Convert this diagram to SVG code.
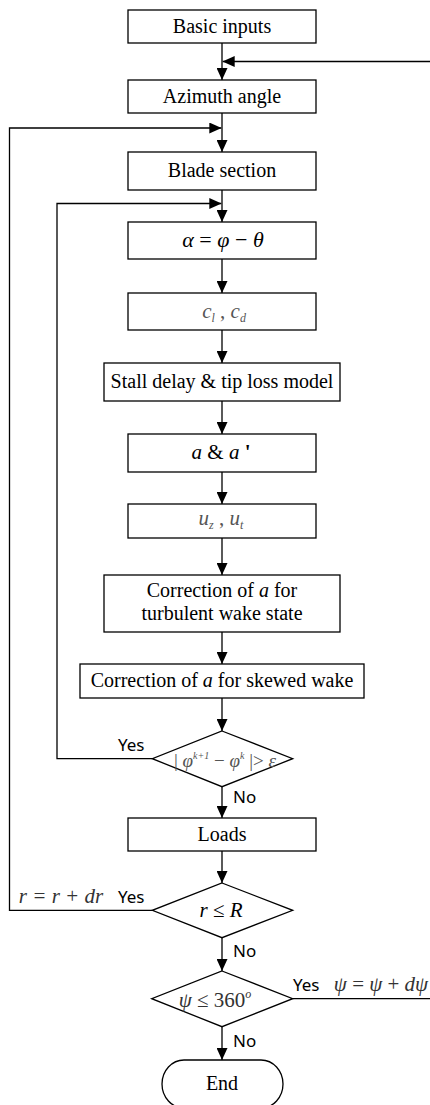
<svg xmlns="http://www.w3.org/2000/svg" width="430" height="1105" viewBox="0 0 430 1105">
<style>
.box{fill:#fff;stroke:#000;stroke-width:1.3}
.t{font-family:"Liberation Serif","Times New Roman",serif;font-size:20px;fill:#000;text-anchor:middle}
.m{font-family:"Liberation Serif","Times New Roman",serif;font-size:21px;fill:#000;text-anchor:middle}
.g{fill:#555}
.i{font-style:italic}
.s{font-size:12px}
.lab{font-family:"Noto Sans","Open Sans",sans-serif;font-size:17px;fill:#000}
.c{fill:none;stroke:#000;stroke-width:1.3}
</style>
<defs>
<marker id="ah" markerUnits="userSpaceOnUse" markerWidth="12" markerHeight="11" refX="12" refY="5.5" orient="auto">
<path d="M0,0 L12,5.5 L0,11 z" fill="#000"/>
</marker>
</defs>
<rect width="430" height="1105" fill="#fff"/>
<g id="connectors">
<path class="c" d="M222,43 V80" marker-end="url(#ah)"/>
<path class="c" d="M292.7,998.7 H430.8 V61.5 H222.7" marker-end="url(#ah)"/>
<path class="c" d="M222,113 V152" marker-end="url(#ah)"/>
<path class="c" d="M152.3,910.3 H9.5 V128 H221.3" marker-end="url(#ah)"/>
<path class="c" d="M222,190 V222" marker-end="url(#ah)"/>
<path class="c" d="M152.3,758.7 H57 V203.5 H221.3" marker-end="url(#ah)"/>
<path class="c" d="M222,259 V293" marker-end="url(#ah)"/>
<path class="c" d="M222,330 V363" marker-end="url(#ah)"/>
<path class="c" d="M222,401 V434" marker-end="url(#ah)"/>
<path class="c" d="M222,472 V504" marker-end="url(#ah)"/>
<path class="c" d="M222,538 V575" marker-end="url(#ah)"/>
<path class="c" d="M222,632 V664" marker-end="url(#ah)"/>
<path class="c" d="M222,698 V731" marker-end="url(#ah)"/>
<path class="c" d="M222,786.7 V818" marker-end="url(#ah)"/>
<path class="c" d="M222,851 V883" marker-end="url(#ah)"/>
<path class="c" d="M222,937.7 V971" marker-end="url(#ah)"/>
<path class="c" d="M222,1026.7 V1060" marker-end="url(#ah)"/>
<text class="lab" x="118" y="751">Yes</text>
<text class="lab" x="233" y="803">No</text>
<text class="lab" x="118" y="903">Yes</text>
<text class="m i" x="61" y="903" style="fill:#333">r = r + dr</text>
<text class="lab" x="293" y="991">Yes</text>
<text class="lab" x="233" y="957">No</text>
<text class="m" x="381" y="991" style="fill:#333"><tspan class="i">ψ</tspan> = <tspan class="i">ψ</tspan> + <tspan class="i">dψ</tspan></text>
<text class="lab" x="233" y="1047">No</text>
</g>
<g id="basic"><rect class="box" x="128" y="10" width="188" height="33"/><text class="t" x="222" y="33">Basic inputs</text></g>
<g id="azimuth"><rect class="box" x="128" y="80" width="188" height="33"/><text class="t" x="222" y="103">Azimuth angle</text></g>
<g id="blade"><rect class="box" x="128" y="152" width="188" height="38"/><text class="t" x="222" y="177">Blade section</text></g>
<g id="alpha"><rect class="box" x="128" y="222" width="188" height="37"/><text class="m" x="223" y="247" style="font-size:22px"><tspan class="i">α</tspan> = <tspan class="i">φ</tspan> − <tspan class="i">θ</tspan></text></g>
<g id="clcd"><rect class="box" x="128" y="293" width="188" height="37"/><text class="m g" x="224" y="318"><tspan class="i">c</tspan><tspan class="i s" dy="4">l</tspan><tspan dy="-4"> , </tspan><tspan class="i">c</tspan><tspan class="i s" dy="4">d</tspan></text></g>
<g id="stall"><rect class="box" x="104" y="363" width="236" height="38"/><text class="t" x="222" y="388">Stall delay &amp; tip loss model</text></g>
<g id="aa"><rect class="box" x="128" y="434" width="188" height="38"/><text class="m" x="221" y="459"><tspan class="i">a</tspan> &amp; <tspan class="i">a</tspan> <tspan style="font-weight:bold">'</tspan></text></g>
<g id="uzut"><rect class="box" x="128" y="504" width="188" height="34"/><text class="m g" x="221" y="525"><tspan class="i">u</tspan><tspan class="i s" dy="4">z</tspan><tspan dy="-4"> , </tspan><tspan class="i">u</tspan><tspan class="i s" dy="4">t</tspan></text></g>
<g id="turb"><rect class="box" x="104" y="575" width="236" height="57"/><text class="t" x="222" y="597">Correction of <tspan class="i">a</tspan> for</text><text class="t" x="222" y="620">turbulent wake state</text></g>
<g id="skew"><rect class="box" x="80" y="664" width="284" height="34"/><text class="t" x="222" y="687">Correction of <tspan class="i">a</tspan> for skewed wake</text></g>
<g id="conv"><polygon class="box" points="222,731 292.7,758.7 222,786.7 152.3,758.7"/><text class="m g" x="225" y="767" style="font-size:19px">| <tspan class="i">φ</tspan><tspan class="i" style="font-size:10px" dy="-8">k+1</tspan><tspan dy="8"> − </tspan><tspan class="i">φ</tspan><tspan class="i" style="font-size:10px" dy="-8">k</tspan><tspan dy="8"> |&gt; </tspan><tspan class="i">ε</tspan></text></g>
<g id="loads"><rect class="box" x="128" y="818" width="188" height="33"/><text class="t" x="222" y="841">Loads</text></g>
<g id="rR"><polygon class="box" points="222,883 292.7,910.3 222,937.7 152.3,910.3"/><text class="m" x="221" y="917"><tspan class="i">r</tspan> ≤  <tspan class="i">R</tspan></text></g>
<g id="psi"><polygon class="box" points="222,971 292.7,998.7 222,1026.7 151.7,998.7"/><text class="m" x="215" y="1007" style="fill:#333"><tspan class="i">ψ</tspan> ≤ 360<tspan class="i s" dy="-9">o</tspan></text></g>
<g id="end"><rect class="box" x="162" y="1060" width="121" height="48" rx="22" ry="24"/><text class="t" x="222" y="1090">End</text></g>
</svg>
